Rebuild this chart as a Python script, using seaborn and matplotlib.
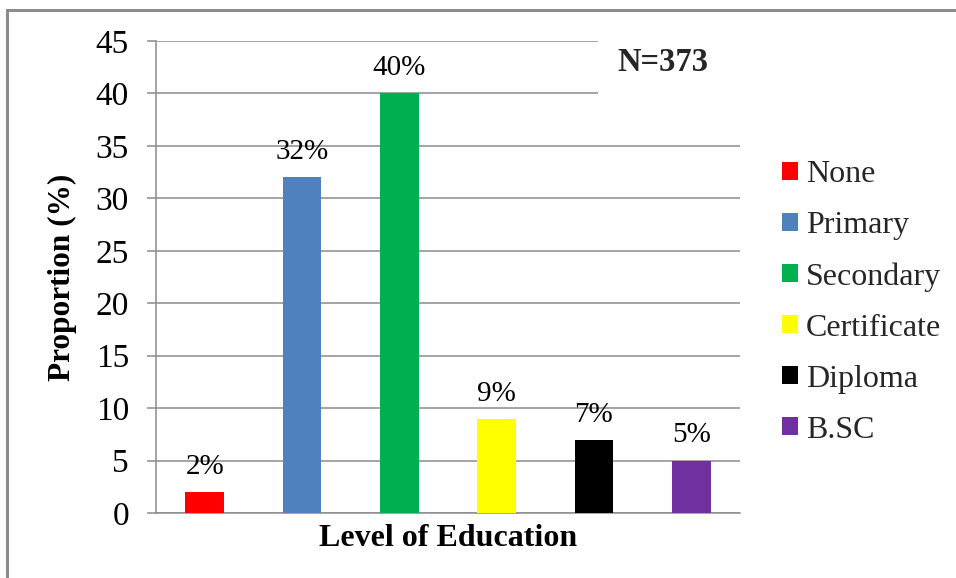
import matplotlib
matplotlib.use("Agg")
import matplotlib.pyplot as plt
from matplotlib.patches import Rectangle
import seaborn as sns
import pandas as pd

# Education level distribution of respondents
levels = ["None", "Primary", "Secondary", "Certificate", "Diploma", "B.SC"]
proportions = [2, 32, 40, 9, 7, 5]
bar_colors = ["#FF0000", "#4F81BD", "#00B050", "#FFFF00", "#000000", "#7030A0"]
y_ticks = [0, 5, 10, 15, 20, 25, 30, 35, 40, 45]
sample_note = "N=373"

df = pd.DataFrame({"Level": levels, "Proportion": proportions})

sns.set_theme(style="white")
plt.rcParams["font.family"] = ["Liberation Serif", "DejaVu Serif"]

fig = plt.figure(figsize=(9.56, 5.78), dpi=100)
ax = fig.add_axes([156 / 956, 1 - 513 / 578, 584 / 956, 472 / 578])

sns.barplot(data=df, x="Level", y="Proportion", hue="Level",
            palette=bar_colors, width=0.4, dodge=False, legend=True,
            saturation=1, ax=ax, linewidth=0, zorder=3)

grid_gray = "#8C8C8C"
ax.set_ylim(0, 45)
ax.set_yticks(y_ticks)
ax.set_xlim(-0.5, len(levels) - 0.5)
ax.set_xticks([])
ax.yaxis.grid(True, color=grid_gray, linewidth=1.1)
ax.set_axisbelow(True)
for side in ("top", "right"):
    ax.spines[side].set_visible(False)
for side in ("left", "bottom"):
    ax.spines[side].set_color(grid_gray)
    ax.spines[side].set_linewidth(1.1)
ax.tick_params(axis="y", which="major", direction="out", length=6.5,
               width=1.1, color=grid_gray, pad=13, labelsize=24,
               labelcolor="black", left=True)

ax.set_xlabel("Level of Education", fontsize=23, fontweight="bold",
              labelpad=8, color="black")
ax.set_ylabel("Proportion (%)", fontsize=22.5, fontweight="bold",
              color="black")
ax.yaxis.set_label_coords(-0.135, 0.5)

# Value labels above each bar
for patch, val in zip(ax.patches, proportions):
    ax.annotate(f"{val}%", (patch.get_x() + patch.get_width() / 2, val),
                xytext=(0, 13), textcoords="offset points",
                ha="center", va="baseline", fontsize=21, color="black")

# White panel behind the sample size note
ax.add_patch(Rectangle((0.757, 0.845), 0.26, 0.18, transform=ax.transAxes,
                       facecolor="white", edgecolor="none", zorder=2,
                       clip_on=False))
ax.text(0.868, 0.955, sample_note, transform=ax.transAxes, ha="center",
        va="center", fontsize=23.5, fontweight="bold", zorder=4)

leg = ax.legend(loc="upper left", bbox_to_anchor=(782 / 956, 1 - 160 / 578),
                bbox_transform=fig.transFigure, frameon=False, fontsize=23,
                handlelength=0.5, handleheight=0.5, handletextpad=0.25,
                labelspacing=0.69, borderpad=0, borderaxespad=0)

# Outer chart frame
fig.patches.append(Rectangle((7 / 956, -0.1), 1.2, 1 - 10.5 / 578 + 0.1,
                             transform=fig.transFigure, fill=False,
                             edgecolor="#8C8C8C", linewidth=2.2))

fig.savefig("out.png", dpi=100, facecolor="white")
